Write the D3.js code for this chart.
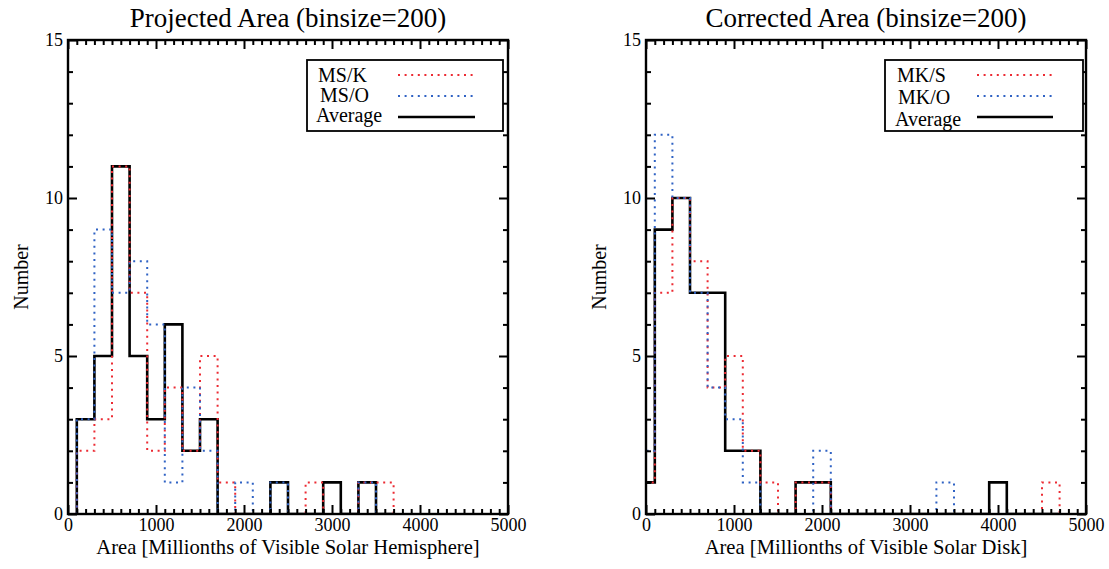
<!DOCTYPE html>
<html>
<head>
<meta charset="utf-8">
<script src="https://cdn.jsdelivr.net/npm/d3@7"></script>
<style>
  html, body { margin: 0; padding: 0; background: #fff; }
  svg { display: block; }
  text { font-family: "Liberation Serif", "Times New Roman", serif; fill: #000; }
</style>
</head>
<body>
<svg id="chart" width="1109" height="569"></svg>
<script>
// Histogram bin width (area units)
const binsize = 200;

// Projected area: bin centres and counts
const projCenters = [200, 400, 600, 800, 1000, 1200, 1400, 1600, 1800, 2000, 2200, 2400, 2600, 2800, 3000, 3200, 3400, 3600];
const projMSK     = [2, 3, 11, 7, 2, 4, 2, 5, 1, 0, 0, 0, 0, 1, 0, 0, 1, 1];
const projMSO     = [3, 9, 7, 8, 6, 1, 4, 2, 0, 1, 0, 1, 0, 0, 0, 0, 1, 0];
const projAvg     = [3, 5, 11, 5, 3, 6, 2, 3, 0, 0, 0, 1, 0, 0, 1, 0, 1, 0];

// Corrected area: bin centres and counts
const corrCenters = [0, 200, 400, 600, 800, 1000, 1200, 1400, 1600, 1800, 2000, 2200, 2400, 2600, 2800, 3000, 3200, 3400, 3600, 3800, 4000, 4200, 4400, 4600];
const corrMKS     = [1, 7, 10, 8, 4, 5, 2, 1, 0, 1, 1, 0, 0, 0, 0, 0, 0, 0, 0, 0, 0, 0, 0, 1];
const corrMKO     = [2, 12, 10, 7, 4, 3, 1, 0, 0, 0, 2, 0, 0, 0, 0, 0, 0, 1, 0, 0, 0, 0, 0, 0];
const corrAvg     = [1, 9, 10, 7, 7, 2, 2, 0, 0, 1, 1, 0, 0, 0, 0, 0, 0, 0, 0, 0, 1, 0, 0, 0];

// Axis ticks
const xTicks = [0, 1000, 2000, 3000, 4000, 5000];
const yTicks = [0, 5, 10, 15];

const RED = "#ec2b33";
const BLUE = "#2f62c4";

const panels = [
  {
    left: 68, title: "Projected Area (binsize=200)",
    xlabel: "Area [Millionths of Visible Solar Hemisphere]",
    centers: projCenters,
    series: [
      { name: "Average", values: projAvg, color: "#000", dotted: false },
      { name: "MS/K", values: projMSK, color: RED, dotted: true },
      { name: "MS/O", values: projMSO, color: BLUE, dotted: true }
    ],
    legend: { x: 307, w: 196, labels: [["MS/K", 318, 82], ["MS/O", 320, 102], ["Average", 316, 122]], lx0: 398, lx1: 475 }
  },
  {
    left: 646, title: "Corrected Area (binsize=200)",
    xlabel: "Area [Millionths of Visible Solar Disk]",
    centers: corrCenters,
    series: [
      { name: "Average", values: corrAvg, color: "#000", dotted: false },
      { name: "MK/S", values: corrMKS, color: RED, dotted: true },
      { name: "MK/O", values: corrMKO, color: BLUE, dotted: true }
    ],
    legend: { x: 885, w: 198, labels: [["MK/S", 897, 82], ["MK/O", 898, 104], ["Average", 895, 126]], lx0: 977, lx1: 1053 }
  }
];

const svg = d3.select("#chart");
const plotW = 440, plotTop = 40, plotBottom = 514;

panels.forEach((p, pi) => {
  const x = d3.scaleLinear().domain([0, 5000]).range([p.left, p.left + plotW]);
  const y = d3.scaleLinear().domain([0, 15]).range([plotBottom, plotTop]);
  const g = svg.append("g");

  const clipId = "clip" + pi;
  svg.append("clipPath").attr("id", clipId)
    .append("rect").attr("x", p.left).attr("y", plotTop).attr("width", plotW).attr("height", plotBottom - plotTop);

  // Histogram outlines (step style)
  const line = d3.line().x(d => x(d[0])).y(d => y(d[1]));
  const hg = g.append("g").attr("clip-path", `url(#${clipId})`);
  p.series.forEach(s => {
    const pts = [];
    const e0 = p.centers[0] - binsize / 2;
    pts.push([e0, 0]);
    p.centers.forEach((c, i) => {
      pts.push([c - binsize / 2, s.values[i]]);
      pts.push([c + binsize / 2, s.values[i]]);
    });
    pts.push([p.centers[p.centers.length - 1] + binsize / 2, 0]);
    hg.append("path")
      .attr("d", line(pts))
      .attr("fill", "none")
      .attr("stroke", s.color)
      .attr("stroke-width", s.dotted ? 2 : 2.6)
      .attr("stroke-dasharray", s.dotted ? "2,4.6" : null)
      .attr("stroke-linejoin", "miter");
  });

  // Axes: ticks point inward on all four sides
  const minorX = d3.range(0, 5001, 100).filter(v => v % 1000 !== 0);
  const minorY = d3.range(0, 16, 1).filter(v => v % 5 !== 0);
  const axStyle = sel => {
    sel.select(".domain").remove();
    sel.selectAll("line").attr("stroke", "#000").attr("stroke-width", 2);
  };

  const bx = g.append("g").attr("transform", `translate(0,${plotBottom})`)
    .call(d3.axisBottom(x).tickValues(xTicks).tickSize(-9).tickPadding(4).tickFormat(d3.format("d")));
  axStyle(bx);
  bx.selectAll("text").attr("font-size", 18).style("font-family", '"Liberation Serif", serif');
  g.append("g").attr("transform", `translate(0,${plotBottom})`)
    .call(d3.axisBottom(x).tickValues(minorX).tickSize(-5).tickFormat("")).call(axStyle);
  g.append("g").attr("transform", `translate(0,${plotTop})`)
    .call(d3.axisTop(x).tickValues(xTicks).tickSize(-9).tickFormat("")).call(axStyle);
  g.append("g").attr("transform", `translate(0,${plotTop})`)
    .call(d3.axisTop(x).tickValues(minorX).tickSize(-5).tickFormat("")).call(axStyle);

  const ly = g.append("g").attr("transform", `translate(${p.left},0)`)
    .call(d3.axisLeft(y).tickValues(yTicks).tickSize(-9).tickPadding(5).tickFormat(d3.format("d")));
  axStyle(ly);
  ly.selectAll("text").attr("font-size", 18).style("font-family", '"Liberation Serif", serif');
  g.append("g").attr("transform", `translate(${p.left},0)`)
    .call(d3.axisLeft(y).tickValues(minorY).tickSize(-5).tickFormat("")).call(axStyle);
  g.append("g").attr("transform", `translate(${p.left + plotW},0)`)
    .call(d3.axisRight(y).tickValues(yTicks).tickSize(-9).tickFormat("")).call(axStyle);
  g.append("g").attr("transform", `translate(${p.left + plotW},0)`)
    .call(d3.axisRight(y).tickValues(minorY).tickSize(-5).tickFormat("")).call(axStyle);

  // Plot frame
  g.append("rect").attr("x", p.left).attr("y", plotTop).attr("width", plotW).attr("height", plotBottom - plotTop)
    .attr("fill", "none").attr("stroke", "#000").attr("stroke-width", 2.4);

  // Titles and axis labels
  g.append("text").attr("x", p.left + plotW / 2).attr("y", 27).attr("text-anchor", "middle")
    .attr("font-size", 27).text(p.title);
  g.append("text").attr("x", p.left + plotW / 2).attr("y", 554).attr("text-anchor", "middle")
    .attr("font-size", 20.6).text(p.xlabel);
  g.append("text").attr("transform", `translate(${p.left - 40},${(plotTop + plotBottom) / 2}) rotate(-90)`)
    .attr("text-anchor", "middle").attr("font-size", 20).text("Number");

  // Legend
  const L = p.legend;
  g.append("rect").attr("x", L.x).attr("y", 60).attr("width", L.w).attr("height", 71)
    .attr("fill", "#fff").attr("stroke", "#000").attr("stroke-width", 1.8);
  const legOrder = [p.series[1], p.series[2], p.series[0]];
  const legY = [75, 96, 117];
  legOrder.forEach((s, i) => {
    g.append("text").attr("x", L.labels[i][1]).attr("y", L.labels[i][2])
      .attr("font-size", 20).text(L.labels[i][0]);
    g.append("line").attr("x1", L.lx0).attr("x2", L.lx1).attr("y1", legY[i]).attr("y2", legY[i])
      .attr("stroke", s.color).attr("stroke-width", s.dotted ? 2 : 2.4)
      .attr("stroke-dasharray", s.dotted ? "2,4.6" : null);
  });
});
</script>
</body>
</html>
